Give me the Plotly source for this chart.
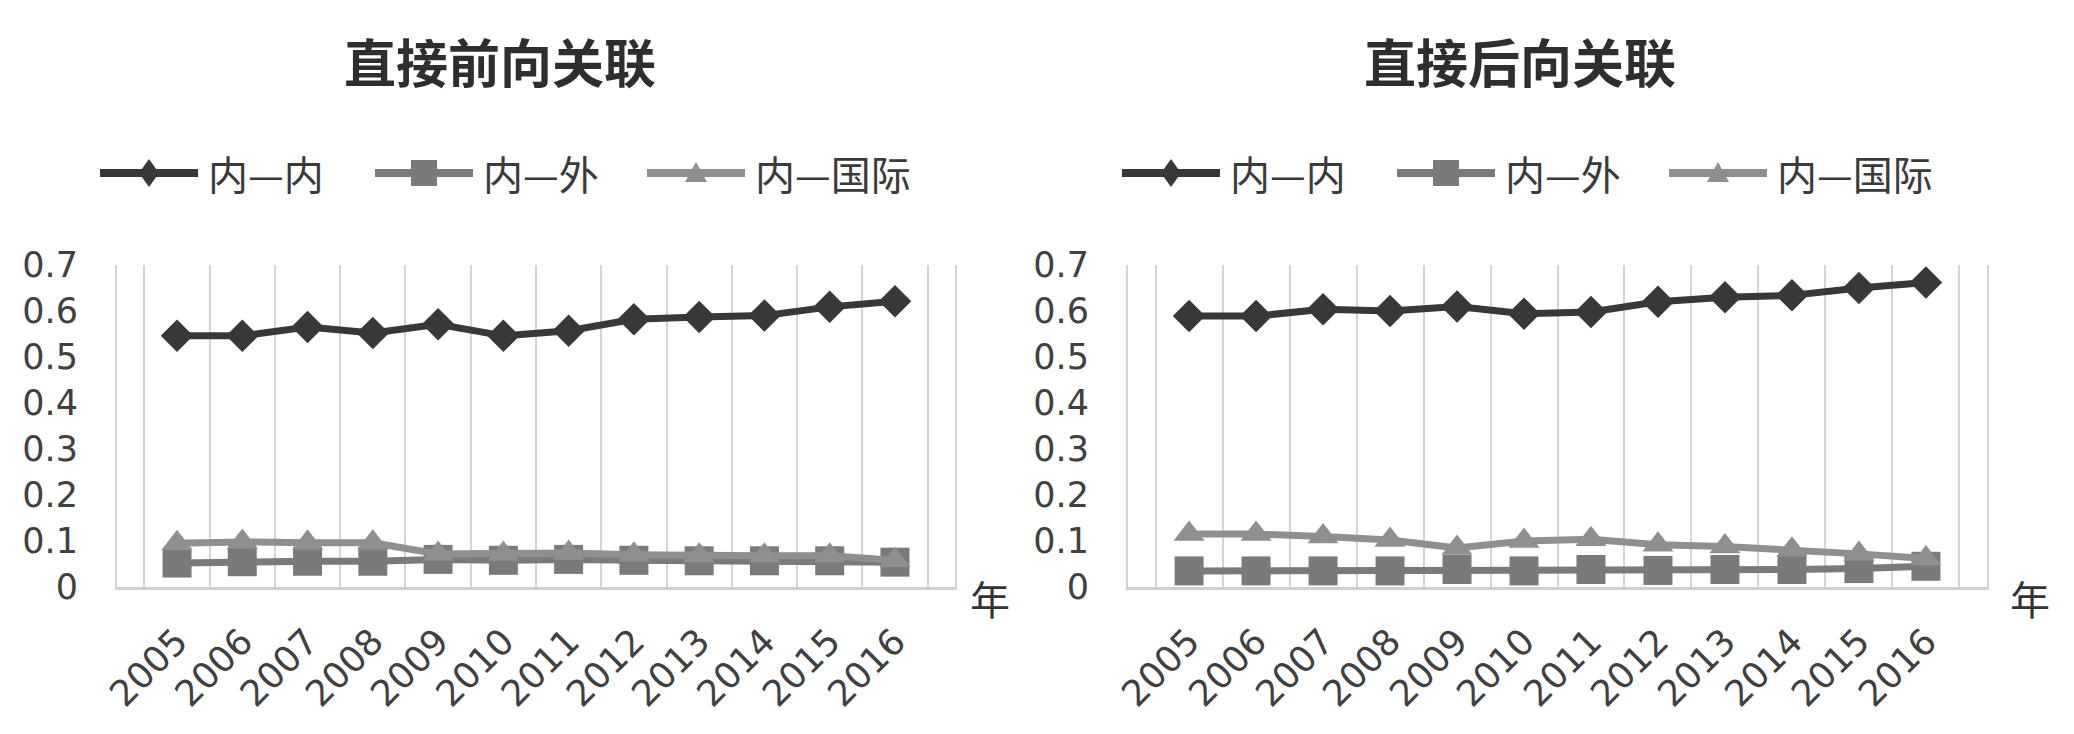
import plotly.graph_objects as go
from plotly.subplots import make_subplots

years = [str(y) for y in range(2005, 2017)]
series_names = ['内—内', '内—外', '内—国际']

# 直接前向关联
fwd_nn = [0.546, 0.546, 0.565, 0.552, 0.571, 0.546, 0.557, 0.582, 0.587, 0.590, 0.609, 0.621]
fwd_nw = [0.052, 0.055, 0.056, 0.056, 0.060, 0.058, 0.060, 0.058, 0.057, 0.057, 0.057, 0.054]
fwd_ng = [0.095, 0.098, 0.096, 0.096, 0.072, 0.072, 0.074, 0.070, 0.068, 0.068, 0.068, 0.058]

# 直接后向关联
bwd_nn = [0.589, 0.589, 0.604, 0.600, 0.610, 0.594, 0.598, 0.620, 0.630, 0.634, 0.650, 0.662]
bwd_nw = [0.035, 0.035, 0.035, 0.035, 0.038, 0.035, 0.038, 0.036, 0.038, 0.038, 0.040, 0.045]
bwd_ng = [0.115, 0.115, 0.110, 0.102, 0.085, 0.100, 0.104, 0.092, 0.088, 0.081, 0.072, 0.062]

titles = ['直接前向关联', '直接后向关联']
y_ticks = [0, 0.1, 0.2, 0.3, 0.4, 0.5, 0.6, 0.7]

W, H = 2074, 734
PAGE_PAD = 8  # browser body margin around the plot div
colors = ['#383838', '#7a7a7a', '#8f8f8f']
symbols = ['diamond', 'square', 'triangle-up']
sizes = [25, 29, 27]

# convert pixel positions
def px(x):
    return (x - PAGE_PAD) / W

def py(y):
    return 1 - (y - PAGE_PAD) / H

fig = make_subplots(rows=1, cols=2, horizontal_spacing=0.05)

for col, data in enumerate([[fwd_nn, fwd_nw, fwd_ng], [bwd_nn, bwd_nw, bwd_ng]], start=1):
    for i, vals in enumerate(data):
        fig.add_trace(go.Scatter(
            x=years, y=vals, name=series_names[i], mode='lines+markers',
            line=dict(color=colors[i], width=7),
            marker=dict(symbol=symbols[i], size=sizes[i], color=colors[i]),
            showlegend=False), row=1, col=col)

x_domains = [[px(117), px(955)], [px(1128), px(1987)]]
y_domain = [py(587), py(265)]

for col in (1, 2):
    fig.update_xaxes(type='category', tickson='boundaries', showgrid=True,
                     gridcolor='#d4d4d4', gridwidth=2, showline=True,
                     linecolor='#cfcfcf', linewidth=3, ticks='',
                     tickangle=-45, tickfont=dict(family='DejaVu Sans', size=36, color='#404040'),
                     ticklabelstandoff=16, domain=x_domains[col - 1], automargin=False,
                     row=1, col=col)
    fig.update_yaxes(range=[0, 0.7], tickvals=y_ticks, showgrid=False,
                     zeroline=False, showline=True, mirror=True,
                     linecolor='#d4d4d4', linewidth=2, ticks='',
                     tickfont=dict(family='DejaVu Sans', size=35, color='#404040'),
                     ticklabelstandoff=30, automargin=False,
                     domain=y_domain, row=1, col=col)

annotations = []
shapes = []

# titles and 年 labels
title_x = [500, 1520]
nian_x = [990, 2030]
for k in range(2):
    annotations.append(dict(x=px(title_x[k]), y=py(60), xref='paper', yref='paper',
                            xanchor='center', yanchor='middle',
                            text='<b>' + titles[k] + '</b>', showarrow=False,
                            font=dict(family='Noto Sans CJK SC', size=52, color='#2e2e2e')))
    annotations.append(dict(x=px(nian_x[k]), y=py(598), xref='paper', yref='paper',
                            xanchor='center', yanchor='middle',
                            text='年', showarrow=False,
                            font=dict(family='Noto Sans CJK SC', size=40, color='#333333')))

# hand-drawn legends (long line samples like the original)
legend_base = [100, 1122]
item_offset = [0, 275, 547]
line_len = 98
legend_y = 173
marker_paths = [
    'M-10,0 L0,14 L10,0 L0,-14 Z',
    'M-13,-13 L13,-13 L13,13 L-13,13 Z',
    'M-11,-9 L11,-9 L0,11 Z',
]
for k in range(2):
    for i in range(3):
        x0 = legend_base[k] + item_offset[i]
        shapes.append(dict(type='line', xref='paper', yref='paper',
                           x0=px(x0), x1=px(x0 + line_len), y0=py(legend_y), y1=py(legend_y),
                           line=dict(color=colors[i], width=8)))
        shapes.append(dict(type='path', xref='paper', yref='paper',
                           xsizemode='pixel', ysizemode='pixel',
                           xanchor=px(x0 + line_len / 2), yanchor=py(legend_y),
                           path=marker_paths[i], fillcolor=colors[i],
                           line=dict(width=0)))
        annotations.append(dict(x=px(x0 + line_len + 8), y=py(legend_y), xref='paper', yref='paper',
                                xanchor='left', yanchor='middle', text=series_names[i], showarrow=False,
                                font=dict(family='Noto Sans CJK SC', size=40, color='#3a3a3a')))

fig.update_layout(width=W, height=H, margin=dict(l=0, r=0, t=0, b=0),
                  plot_bgcolor='white', paper_bgcolor='white',
                  annotations=annotations, shapes=shapes)

fig.write_html("out.html")
